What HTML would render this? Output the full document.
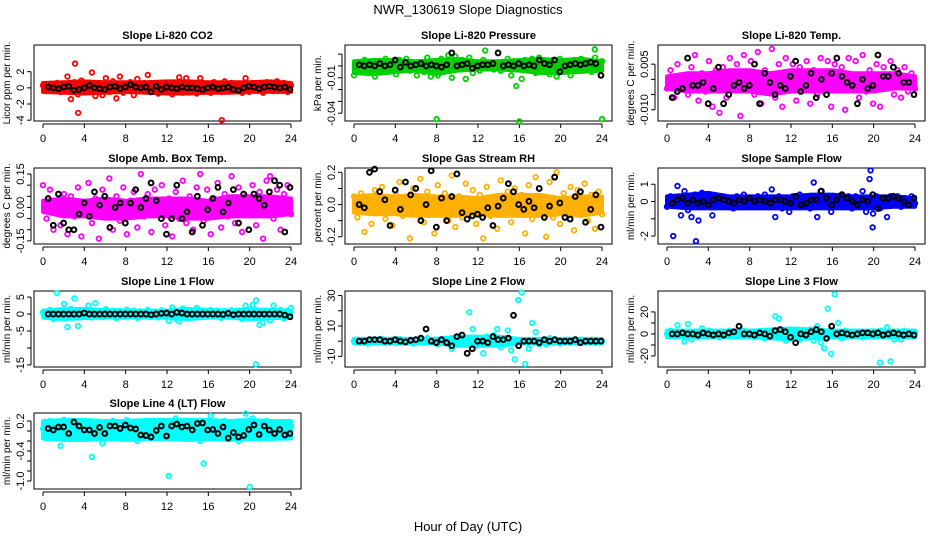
<!DOCTYPE html>
<html><head><meta charset="utf-8"><style>
html,body{margin:0;padding:0;background:#fff;}
svg text{font-family:"Liberation Sans",Arial,sans-serif;}
</style></head><body>
<svg id="chart" width="936" height="540" viewBox="0 0 936 540" xmlns="http://www.w3.org/2000/svg">
<text x="468" y="14" text-anchor="middle" font-size="13">NWR_130619  Slope Diagnostics</text>
<text x="468" y="531" text-anchor="middle" font-size="13">Hour of Day (UTC)</text>
</svg>
<script>
const titles=["Slope Li-820 CO2","Slope Li-820 Pressure","Slope Li-820 Temp.","Slope Amb. Box Temp.","Slope Gas Stream RH","Slope Sample Flow","Slope Line 1 Flow","Slope Line 2 Flow","Slope Line 3 Flow","Slope Line 4 (LT) Flow"];
const ylabels=["Licor ppm per min.","kPa per min.","degrees C per min.","degrees C per min.","percent per min.","ml/min per min.","ml/min per min.","ml/min per min.","ml/min per min.","ml/min per min."];
const colors=["#ff0000","#00d000","#ff00ff","#ff00ff","#ffb000","#0000ff","#00ffff","#00ffff","#00ffff","#00ffff"];
const xTicks=[0,4,8,12,16,20,24];
const bandHours=[0,2,4,6,8,10,12,14,16,18,20,22,24];
const yTicks=[[2,0,-2,-4],[0.01,0,-0.01,-0.02,-0.03,-0.04],[0.005,0,-0.005,-0.010],[0.15,0.10,0.05,0,-0.05,-0.10,-0.15],[0.2,0.1,0,-0.1,-0.2],[1,0,-1,-2],[5,0,-5,-10,-15],[30,20,10,0,-10],[20,10,0,-10,-20],[0.2,0,-0.2,-0.4,-0.6,-0.8,-1.0]];
const yTickLabels=[["2","0","-2","-4"],["","","-0.01","","","-0.04"],["0.005","","","-0.010"],["0.15","","","0.00","","","-0.15"],["0.2","","0.0","","-0.2"],["1","0","","-2"],["5","0","-5","","-15"],["30","","10","","-10"],["20","","0","","-20"],["0.2","","","-0.4","","","-1.0"]];
const yLims=[[5.3,-4.1],[0.0177,-0.0466],[0.0113,-0.0137],[0.177,-0.164],[0.227,-0.245],[1.94,-2.46],[6.8,-15.6],[33,-17],[39,-30],[0.36,-1.16]];
const bandUpper=[[0.6,0.7,0.8,0.7,0.7,0.7,0.8,0.8,0.7,0.7,0.7,0.8,0.6],[0.004,0.005,0.005,0.004,0.005,0.006,0.004,0.004,0.005,0.006,0.005,0.006,0.004],[0.001,0.002,0.002,0.003,0.003,0.002,0.003,0.003,0.003,0.002,0.002,0.002,0.001],[0.03,0.04,0.03,0.04,0.03,0.04,0.04,0.04,0.03,0.05,0.05,0.05,0.04],[0.05,0.06,0.05,0.06,0.05,0.05,0.04,0.06,0.06,0.06,0.04,0.05,0.05],[0.3,0.4,0.5,0.3,0.3,0.3,0.3,0.4,0.4,0.3,0.3,0.3,0.2],[1,1.5,1.5,1.2,1,1,1,1.5,1.2,1,1.5,1.2,1],[1.5,1.5,1.5,1.5,1.5,3,3,3,1.5,1.5,1.5,1.5,1.5],[3,3,3,3,3,4,5,4,3,3,3,3,3],[0.2,0.22,0.22,0.2,0.2,0.22,0.22,0.22,0.22,0.2,0.22,0.2,0.2]];
const bandLower=[[-0.5,-0.6,-0.7,-0.6,-0.5,-0.6,-0.7,-0.7,-0.6,-0.6,-0.5,-0.5,-0.5],[-0.006,-0.007,-0.005,-0.004,-0.007,-0.004,-0.003,-0.003,-0.004,-0.006,-0.006,-0.005,-0.004],[-0.003,-0.004,-0.004,-0.004,-0.004,-0.005,-0.004,-0.004,-0.004,-0.004,-0.004,-0.003,-0.003],[-0.02,-0.04,-0.04,-0.05,-0.05,-0.04,-0.04,-0.05,-0.05,-0.04,-0.04,-0.04,-0.03],[-0.05,-0.06,-0.06,-0.07,-0.07,-0.07,-0.06,-0.07,-0.07,-0.07,-0.06,-0.07,-0.05],[-0.3,-0.4,-0.4,-0.4,-0.4,-0.4,-0.4,-0.4,-0.4,-0.4,-0.4,-0.3,-0.3],[-1,-1.5,-1.2,-1,-1,-1,-1,-1.5,-1,-1,-1.5,-1.2,-1],[-1.5,-1.5,-1.5,-1.5,-1.5,-3,-3,-3,-1.5,-1.5,-1.5,-1.5,-1.5],[-3,-3,-3,-3,-3,-4,-5,-4,-3,-3,-3,-3,-3],[-0.15,-0.18,-0.18,-0.16,-0.18,-0.16,-0.16,-0.18,-0.16,-0.18,-0.16,-0.16,-0.15]];
const c0=[0.3,-0.4,0.5,-0.2,0.6,-0.5,0.2,1.4,-1.4,0.7,-0.8,0.9,-0.4,0.6,1.9,-1.0,0.4,-0.9,1.2,-0.5,0.8,-1.3,1.4,-0.6,0.5,0.7,-0.9,1.1,-0.4,0.6,1.6,-0.5,0.4,-0.7,0.6,-0.4,0.3,-0.8,0.5,1.3,-0.6,1.2,-0.5,0.6,-0.7,1.2,-0.4,0.5,-0.6,0.7,0.3,-0.5,0.8,-0.4,0.6,-0.3,0.4,-0.6,1.2,-0.5,0.6,-0.3,0.4,-0.6,0.7,0.5,-0.4,0.8,-0.3,0.6,-0.5,0.3];
const c1=[-0.008,0.002,-0.004,0.005,-0.006,0.001,-0.009,0.004,-0.003,0.006,-0.005,0.002,-0.007,0.005,-0.002,0.006,-0.004,0.001,-0.008,0.003,-0.005,0.007,-0.009,0.004,-0.008,0.006,-0.004,0.009,-0.010,0.008,-0.003,0.005,-0.011,0.007,-0.006,0.003,-0.004,0.005,-0.002,0.001,-0.003,0.002,-0.004,0.003,0.006,-0.008,0.004,-0.002,-0.011,0.005,-0.003,0.006,-0.006,0.007,-0.004,0.004,-0.007,0.005,-0.009,0.006,-0.003,0.004,-0.008,0.005,-0.004,0.006,-0.002,0.003,-0.005,0.007,-0.001,0.004];
const c2=[-0.003,0.003,-0.006,0.005,-0.002,0.001,-0.005,0.004,0.008,-0.007,0.002,-0.004,0.006,-0.009,0.003,-0.011,0.004,-0.006,0.007,-0.003,0.005,-0.012,0.008,-0.002,0.006,-0.005,0.009,-0.008,0.003,-0.004,0.010,-0.006,0.005,-0.009,0.007,-0.003,0.005,-0.007,0.004,-0.002,0.006,-0.008,0.003,-0.005,0.007,-0.004,0.006,-0.009,0.005,-0.003,0.004,-0.010,0.007,-0.002,0.006,-0.006,0.008,-0.004,0.003,-0.008,0.005,-0.009,0.004,-0.003,0.006,-0.005,0.003,-0.006,0.004,-0.004,0.002,-0.003];
const c3=[0.1,-0.05,0.08,-0.1,0.03,-0.08,0.06,-0.12,0.05,-0.04,0.09,-0.13,0.02,0.11,-0.07,0.04,-0.14,0.08,-0.03,0.13,-0.1,0.05,-0.06,0.09,-0.12,0.03,0.07,-0.09,0.15,-0.04,0.06,-0.11,0.08,-0.02,0.1,-0.08,0.04,-0.13,0.07,-0.05,0.12,-0.07,0.05,-0.1,0.09,0.15,-0.06,0.08,-0.12,0.04,0.11,-0.09,0.06,-0.04,0.14,-0.07,0.09,-0.11,0.05,-0.03,0.1,-0.08,0.07,-0.14,0.12,0.14,-0.05,0.08,-0.1,0.06,0.1,-0.03];
const c4=[0.05,-0.08,0.07,-0.17,0.03,-0.12,0.09,-0.05,0.11,-0.09,0.04,-0.13,0.06,0.14,-0.07,0.02,-0.21,0.1,-0.04,0.16,-0.11,0.08,-0.06,-0.18,0.12,-0.03,0.07,-0.1,0.18,-0.14,0.05,-0.08,0.13,-0.02,0.09,-0.12,0.06,-0.21,0.11,-0.07,0.04,-0.15,0.15,-0.05,0.08,-0.11,0.1,-0.03,0.06,-0.18,0.12,-0.09,0.17,-0.06,0.03,-0.2,0.14,-0.08,0.2,-0.12,0.07,-0.05,0.11,-0.16,0.09,-0.04,0.13,-0.1,0.06,-0.15,0.08,-0.06];
const c5=[-0.3,0.3,-0.2,0.9,-0.8,0.6,-0.5,-0.9,0.4,-1.1,0.5,-0.3,0.3,-0.8,0.2,-0.2,0.3,-0.3,0.2,-0.4,0.3,-0.2,0.4,-0.3,0.2,-0.3,0.3,-0.2,0.4,-0.3,0.7,-0.9,0.3,-0.4,0.2,-0.6,0.3,-0.3,0.4,-0.2,0.3,-0.4,1.1,-0.9,0.6,-0.3,0.3,-0.6,0.2,-0.3,0.4,-0.2,0.3,-0.4,0.3,-0.3,0.6,-0.6,1.3,-0.7,0.3,-0.4,0.2,-0.9,0.3,-0.2,0.3,-0.3,0.2,-0.2,0.3,-0.1];
const c6=[0.5,-0.8,1.2,-1.5,6.2,-0.5,3.0,-3.8,1.5,4.6,-3.5,1.2,-0.6,2.5,-1.0,3.2,0.8,-0.9,1.4,-0.7,1.0,-1.2,0.9,-0.8,1.3,-0.6,1.0,-1.1,0.8,-0.5,1.2,-0.9,0.7,-1.0,1.1,-0.8,-2.0,1.9,-1.5,-2.2,1.6,-0.9,1.2,-1.0,1.8,-0.7,1.0,-0.8,1.2,-0.6,1.0,-1.1,0.9,-0.7,1.1,-0.9,1.0,-1.5,2.5,-0.8,2.7,4.0,-3.2,-2.5,1.0,-1.8,2.5,-0.8,1.2,-1.3,1.0,1.8];
const c7=[0,1,-1,0.5,-1.5,1,0,-0.5,1.5,-1,0.5,1,-1,1.5,-0.5,0,1,-1.5,0.5,1,-1,2,-0.5,1,-2,1,0,-1.5,-5,2,-1,1.5,-2,19,8,-3,2,-8,3,-2,4,8,-4,2,7,-6,-12,27,32,-15,-5,12,6,-2,1,-2,2,-1,1,-1.5,0.5,1,-1,0.5,-1,1,0,-0.5,1,-1,0.5,0];
const c8=[0,3,-2,8,-1,-7,9,-5,2,-3,5,-1,3,-2,1,-3,2,-1,3,-2,1,-2,3,-1,2,-3,1,-2,-4,3,-1,16,14,-3,-6,4,-2,3,-5,2,-3,4,-6,7,-8,-13,23,-18,36,10,-4,3,-2,2,-1,2,-3,1,-2,2,-1,3,-2,6,-25,-5,2,-5,3,-2,2,1];
const c9=[0.05,-0.15,0.2,-0.1,0.15,-0.3,0.22,-0.05,0.18,-0.12,0.1,-0.15,0.2,-0.08,-0.52,0.15,-0.1,-0.25,0.12,-0.05,0.2,-0.1,0.15,-0.15,0.22,-0.08,0.1,-0.2,0.18,-0.12,0.05,-0.15,0.2,-0.1,0.15,-0.05,-0.9,0.18,0.25,-0.12,0.1,-0.15,0.2,-0.08,0.15,-0.2,-0.65,0.18,0.3,-0.12,0.1,-0.15,0.2,-0.05,0.15,-0.1,-0.2,0.18,0.35,-0.12,0.25,-0.15,0.1,-0.08,0.2,-0.1,0.15,-0.05,0.1,-0.12,0.05,0.1];
const b0=[0.1,0,-0.1,0.1,0.2,-0.3,-0.2,0,0.3,0,-0.1,-0.2,0.1,0.2,-0.1,0.1,0.4,0.1,0,0.1,-0.5,0.2,-0.2,0.1,0,-0.1,0.1,0,0,-0.1,-0.2,0,0.1,-0.1,0,0.1,-0.2,-0.3,0,0.2,0.1,-0.1,0.1,0.2,0.1,0,0.1,-0.2];
const b1=[0.001,0,0.001,0,0.002,0,0.001,0.005,-0.001,0.003,0,0.001,0.002,0,0.001,0,-0.001,0.001,0.011,0,0.001,0.002,-0.002,0,0.001,0.001,0.002,0.011,0,0.001,0,0.002,0,0.001,0,0.005,0.002,0.001,0.005,-0.005,0,0.001,0.002,0.001,0.002,0.003,0.002,-0.008];
const b2=[-0.006,-0.004,-0.003,0.007,-0.002,-0.002,-0.001,-0.008,-0.003,0.004,-0.008,-0.005,-0.002,-0.001,-0.003,-0.002,0.005,-0.008,0.002,-0.001,-0.005,-0.002,-0.003,0.001,0.006,-0.004,-0.002,0.002,-0.006,0,-0.005,0.002,0.007,0.001,-0.001,-0.002,-0.008,0,-0.003,-0.002,0.008,0.001,0.001,0.004,0.002,-0.001,-0.001,-0.005];
const b3=[0.04,-0.08,0.06,-0.07,-0.1,-0.1,-0.03,0.02,-0.04,0.07,0.01,0.05,-0.09,0,0.02,-0.07,0.02,0.08,0,0.04,0.11,0.03,-0.05,-0.12,-0.05,0.1,-0.05,-0.02,-0.11,0.05,-0.08,-0.01,0.04,0.09,-0.02,0.02,0.08,-0.07,0.06,-0.1,0.06,0.04,0.01,0.07,0.12,0.1,-0.11,0.09];
const b4=[0,-0.02,0.2,0.22,0.08,0.03,-0.13,0.09,-0.03,0.14,0.06,0.1,-0.1,0.0,0.21,-0.14,0.04,-0.1,0.05,0.19,-0.05,-0.09,-0.07,-0.06,-0.08,-0.02,-0.13,-0.01,0.04,0.13,0.08,0.0,-0.03,0.02,-0.02,0.1,-0.08,-0.01,0.17,0.01,-0.08,-0.09,0.05,0.08,-0.11,-0.03,0.06,-0.14];
const b5=[-0.1,0.1,0.2,-0.1,0.1,-0.1,0,-0.2,0.1,0.2,0.1,0,-0.1,0.1,0,0.2,0,0.1,0,-0.1,0.1,0.1,0,-0.1,0.3,-0.2,-0.1,0.1,0.1,0.6,0.2,-0.2,0.1,0.4,0.2,0,-0.2,0.1,0,0.4,-0.4,0.2,0.2,0.3,0.2,0,-0.2,0.2];
const b6=[0,0,0,0,0,0,0,0.3,0,0,0,0,0,0,0,0,0,0,0,0,-0.2,0,0.2,0.3,0,0.5,0.3,0,0,0,0,0,0,0,-0.1,0.2,-0.2,0,0,0,0,0,0,0,0,0,-0.3,-0.8];
const b7=[0,0,1,1,1,0,0,1,0,-0.5,0.5,1,2,8,0,-1,1,-1,-3,3,4,-8,-5,0,0,-1,3,1,1,2,17,-3,0,0,0,-1,1,0,1,0,0,0,1,-1,0,0,0,0];
const b8=[0,0,1,0,0,-1,1,0,-1,0,-1,1,2,7,0,0,-1,1,0,-2,3,4,2,-3,-8,0,-1,2,4,2,-4,7,0,1,0,-1,0,1,1,0,1,-1,0,1,0,-1,0,-1];
const b9=[0.05,0.02,0.08,0.08,-0.05,0.18,0.1,0.02,0.02,-0.05,0.07,-0.05,0.1,0.1,0.05,0.12,0.06,0.04,-0.08,-0.09,-0.12,0.01,0.1,-0.1,0.1,0.14,0.08,0.1,0.02,0.15,0.16,0.02,0.03,-0.05,0.08,-0.14,-0.03,-0.12,-0.09,0.03,0.12,-0.07,0.1,0.02,-0.05,0.03,-0.08,-0.05];
const outHours=[[3.1,3.4,17.3],[8,16,24,15.7,12.7,23.3],[],[],[],[0.6,2.8,19.7,19.9],[20.6],[],[20.6],[20]];
const outVals=[[3,-3.1,-4],[-0.045,-0.047,-0.045,-0.017,0.013,0.014],[],[],[],[-2,-2.3,1.8,-1.5],[-14.8],[],[-26],[-1.12]];
const colSeries=[c0,c1,c2,c3,c4,c5,c6,c7,c8,c9];
const blkSeries=[b0,b1,b2,b3,b4,b5,b6,b7,b8,b9];

const svg=document.getElementById('chart');
const NS='http://www.w3.org/2000/svg';
const colLeft=[34,345,658], rowTop=[45,168,291,413], W=267, H=76;
function mk(tag,attrs,parent){const e=document.createElementNS(NS,tag);for(const k in attrs)e.setAttribute(k,attrs[k]);(parent||svg).appendChild(e);return e;}
for(let p=0;p<10;p++){
  const L=colLeft[p%3], T=rowTop[Math.floor(p/3)];
  const g=mk('g',{});
  
  
  const xs=h=>L+9+h*(W-19)/24;
  const [yt,yb]=yLims[p];
  const ys=v=>T+(yt-v)/(yt-yb)*H;
  const t=mk('text',{x:L+W/2,y:T-6,'text-anchor':'middle','font-size':11,'font-weight':'bold'},g);
  t.textContent=titles[p];
  
  
  const box=mk('rect',{x:L,y:T,width:W,height:H,fill:'none',stroke:'#000','stroke-width':1},g);
  
  
  const ax=mk('g',{},g);
  
  
  mk('line',{x1:xs(0),x2:xs(24),y1:T+H+3,y2:T+H+3,stroke:'#000'},ax);
  xTicks.forEach(v=>{mk('line',{x1:xs(v),x2:xs(v),y1:T+H+3,y2:T+H+7,stroke:'#000'},ax);
    const tx=mk('text',{x:xs(v),y:T+H+21,'text-anchor':'middle','font-size':11},ax);tx.textContent=v;});
  const ay=mk('g',{},g);
  
  
  const tk=yTicks[p];
  mk('line',{x1:L-3,x2:L-3,y1:ys(tk[0]),y2:ys(tk[tk.length-1]),stroke:'#000'},ay);
  tk.forEach((v,i)=>{const y=ys(v);mk('line',{x1:L-3,x2:L-7,y1:y,y2:y,stroke:'#000'},ay);
    const lb=yTickLabels[p][i]; if(lb){const tx=mk('text',{x:0,y:0,'text-anchor':'middle','font-size':11,transform:`translate(${L-10},${y}) rotate(-90)`},ay);tx.textContent=lb;}});
  const yl=mk('text',{x:0,y:0,'text-anchor':'middle','font-size':10,transform:`translate(${L-24},${T+H/2}) rotate(-90)`},g);
  yl.textContent=ylabels[p];
  
  
  let pts=bandHours.map((h,i)=>xs(h)+','+ys(bandUpper[p][i]));
  pts=pts.concat(bandHours.slice().reverse().map((h,j)=>{const i=bandHours.length-1-j;return xs(h)+','+ys(bandLower[p][i]);}));
  const band=mk('polygon',{points:pts.join(' '),fill:colors[p],stroke:colors[p],'stroke-width':4,'stroke-linejoin':'round'},g);
  
  
  const cs=colSeries[p], cg=mk('g',{fill:'none',stroke:colors[p],'stroke-width':1.8},g);
  
  
  cs.forEach((v,i)=>{const c=mk('circle',{cx:xs(i*24/(cs.length-1)),cy:ys(v),r:2.3},cg);
    
    });
  outHours[p].forEach((h,i)=>{const c=mk('circle',{cx:xs(h),cy:ys(outVals[p][i]),r:2.3},cg);
    
    });
  const bs=blkSeries[p], bg=mk('g',{fill:'none',stroke:'#000','stroke-width':2},g);
  
  
  bs.forEach((v,i)=>{const c=mk('circle',{cx:xs(0.5+i*23.4/(bs.length-1)),cy:ys(v),r:2.4},bg);
    
    });
}
</script>
</body></html>
